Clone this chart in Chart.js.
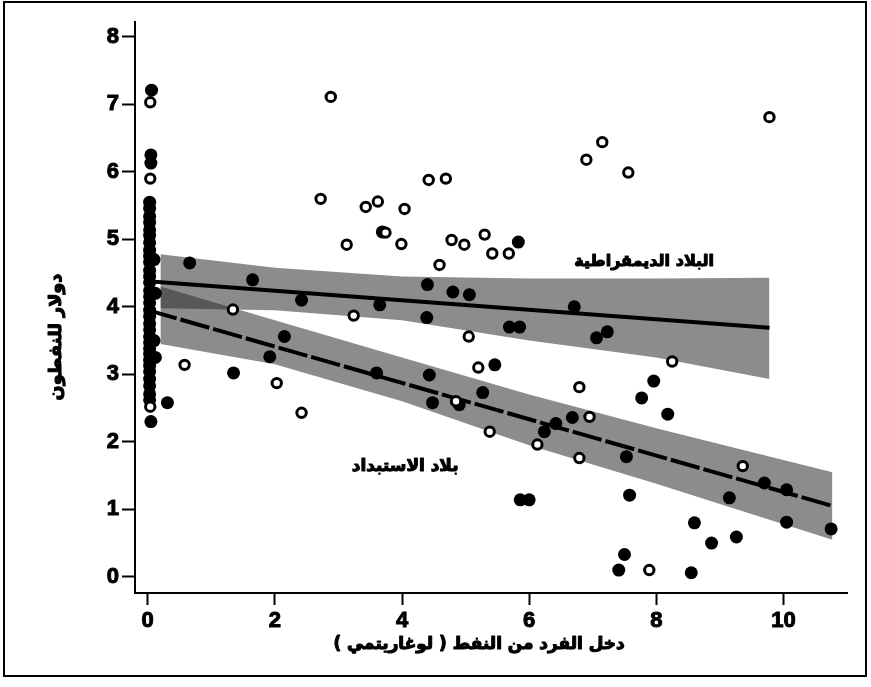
<!DOCTYPE html>
<html>
<head>
<meta charset="utf-8">
<script src="https://cdn.jsdelivr.net/npm/chart.js@4.4.1/dist/chart.umd.min.js"></script>
<style>
  html, body { margin: 0; padding: 0; background: #fff; }
  #wrap { position: relative; width: 871px; height: 687px; }
  #frame { position: absolute; left: 3px; top: 1px; width: 860px; height: 672px; border: 2px solid #000; pointer-events: none; }
  canvas { position: absolute; left: 0; top: 0; }
</style>
</head>
<body>
<div id="wrap">
  <canvas id="chart" width="871" height="687"></canvas>
  <div id="frame"></div>
</div>
<script>
// axis ticks
const X_TICKS = [0, 2, 4, 6, 8, 10];
const Y_TICKS = [0, 1, 2, 3, 4, 5, 6, 7, 8];

// democracies (open circles) [oil income per capita (log), value]
const democracies = [
  [0.04, 7.03], [0.04, 5.9], [0.04, 2.52],
  [2.88, 7.11], [2.72, 5.6], [3.13, 4.92], [3.43, 5.48], [3.62, 5.56], [3.74, 5.1],
  [4.04, 5.45], [3.99, 4.93], [4.42, 5.88], [4.69, 5.9], [4.59, 4.62], [4.78, 4.99],
  [4.98, 4.92], [5.3, 5.07], [5.42, 4.79], [5.68, 4.79],
  [6.9, 6.18], [7.15, 6.44], [7.56, 5.99], [9.78, 6.81],
  [0.58, 3.14], [1.34, 3.96], [2.03, 2.87], [2.42, 2.43], [3.24, 3.87], [5.05, 3.56],
  [5.2, 3.1], [6.79, 2.81], [6.95, 2.37], [8.25, 3.19], [6.79, 1.76], [7.89, 0.1],
  [9.36, 1.64], [5.38, 2.15], [6.13, 1.96], [4.85, 2.6]
];

// autocracies (filled circles)
const autocracies = [
  [0.06, 7.21], [0.05, 6.25], [0.05, 6.13], [0.31, 2.58], [0.05, 2.3],
  [0.12, 3.25], [0.1, 3.5], [0.12, 4.2], [0.1, 4.7],
  [0.66, 4.65], [1.65, 4.4], [1.35, 3.02], [2.15, 3.56], [1.92, 3.26],
  [2.42, 4.1], [3.6, 3.02], [3.65, 4.03], [3.69, 5.11], [4.4, 4.33],
  [4.39, 3.84], [4.8, 4.22], [5.06, 4.18], [4.43, 2.99], [4.48, 2.58],
  [4.9, 2.55], [5.27, 2.73], [5.46, 3.14], [5.69, 3.7], [5.85, 3.7],
  [5.83, 4.96], [6.71, 4.0], [7.06, 3.54], [7.23, 3.63], [7.96, 2.9],
  [7.77, 2.65], [8.18, 2.41], [6.68, 2.36], [7.53, 1.78], [7.58, 1.21],
  [5.86, 1.14], [6.0, 1.14], [8.6, 0.8], [8.87, 0.5], [9.26, 0.59],
  [7.5, 0.33], [7.41, 0.1], [8.55, 0.06], [9.15, 1.17], [9.7, 1.39],
  [10.05, 1.29], [10.05, 0.81], [10.75, 0.71], [6.24, 2.15], [6.42, 2.27]
];

// the dense stack of autocracies with no oil income
const zeroOilY = [
  2.62, 2.71, 2.83, 2.93, 3.04, 3.13, 3.21, 3.3, 3.38, 3.47, 3.56, 3.66, 3.75,
  3.86, 3.95, 4.06, 4.15, 4.24, 4.36, 4.45, 4.54, 4.66, 4.75, 4.84, 4.95, 5.06,
  5.14, 5.25, 5.34, 5.46, 5.55
];

// fitted lines and confidence bands
const demoLineX = [0, 9.78];
const demoLineY = [4.38, 3.69];
const demoBandX = [0.2, 2, 4, 6, 8, 9.78];
const demoBandUpper = [4.78, 4.58, 4.45, 4.42, 4.42, 4.43];
const demoBandLower = [3.98, 3.95, 3.8, 3.5, 3.25, 2.93];

const autoLineX = [0, 10.77];
const autoLineY = [3.95, 1.05];
const autoBandX = [0.2, 2, 4, 6, 8, 10.77];
const autoBandUpper = [4.3, 3.8, 3.25, 2.7, 2.2, 1.55];
const autoBandLower = [3.45, 3.15, 2.6, 1.95, 1.38, 0.55];

const X_TITLE = 'دخل الفرد من النفط ( لوغاريتمي )';
const Y_TITLE = 'دولار للنفطون';
const DEMO_LABEL = 'البلاد الديمقراطية';
const AUTO_LABEL = 'بلاد الاستبداد';

const BAND = 'rgba(45, 45, 45, 0.55)';
const ARABIC_FONT = '"DejaVu Sans"';

const pts = (xs, ys) => xs.map((x, i) => ({ x: x, y: ys[i] }));
const pairs = (list) => list.map((p) => ({ x: p[0], y: p[1] }));

const band = (xs, ys, fill) => ({
  type: 'line',
  data: pts(xs, ys),
  fill: fill,
  backgroundColor: BAND,
  borderWidth: 0,
  pointRadius: 0,
  order: 3
});

const fitFont = (c, text, width) => {
  c.font = 'bold 20px ' + ARABIC_FONT;
  const size = 20 * width / c.measureText(text).width;
  return 'bold ' + size.toFixed(1) + 'px ' + ARABIC_FONT;
};

// heavy print look: fill then a thin stroke
const heavyText = (c, text, x, y) => {
  c.fillText(text, x, y);
  c.strokeText(text, x, y);
};

const textPlugin = {
  id: 'arabicTexts',
  afterDraw(chart) {
    const c = chart.ctx;
    const xs = chart.scales.x;
    const ys = chart.scales.y;
    c.save();
    c.fillStyle = '#000';
    c.strokeStyle = '#000';
    c.lineWidth = 1.1;
    c.lineJoin = 'round';
    c.direction = 'rtl';
    c.textAlign = 'center';
    c.textBaseline = 'middle';

    c.font = fitFont(c, DEMO_LABEL, 140);
    heavyText(c, DEMO_LABEL, xs.getPixelForValue(7.81), ys.getPixelForValue(4.67));

    c.font = fitFont(c, AUTO_LABEL, 107);
    heavyText(c, AUTO_LABEL, xs.getPixelForValue(4.05), ys.getPixelForValue(1.63));

    c.font = fitFont(c, X_TITLE, 292);
    heavyText(c, X_TITLE, 479, 645);

    c.translate(56, 337);
    c.rotate(-Math.PI / 2);
    c.font = fitFont(c, Y_TITLE, 127);
    heavyText(c, Y_TITLE, 0, 0);
    c.restore();
  }
};

const tickFont = { family: '"Liberation Sans", Arial, sans-serif', size: 22, weight: 'bold' };

new Chart(document.getElementById('chart').getContext('2d'), {
  type: 'scatter',
  data: {
    datasets: [
      band(demoBandX, demoBandUpper, '+1'),
      band(demoBandX, demoBandLower, false),
      band(autoBandX, autoBandUpper, '+1'),
      band(autoBandX, autoBandLower, false),
      {
        type: 'line',
        data: pts(demoLineX, demoLineY),
        borderColor: '#000',
        borderWidth: 4,
        pointRadius: 0,
        fill: false,
        order: 2
      },
      {
        type: 'line',
        data: pts(autoLineX, autoLineY),
        borderColor: '#000',
        borderWidth: 4,
        borderDash: [30, 4],
        pointRadius: 0,
        fill: false,
        order: 2
      },
      {
        data: pairs(autocracies).concat(zeroOilY.map((y) => ({ x: 0.03, y: y }))),
        pointRadius: 6.5,
        pointBackgroundColor: '#000',
        pointBorderWidth: 0,
        order: 1
      },
      {
        data: pairs(democracies),
        pointRadius: 4.7,
        pointBackgroundColor: '#fff',
        pointBorderColor: '#000',
        pointBorderWidth: 3,
        order: 0
      }
    ]
  },
  options: {
    responsive: false,
    animation: false,
    layout: { padding: { top: 22, right: 24, bottom: 0, left: 0 } },
    plugins: {
      legend: { display: false },
      tooltip: { enabled: false }
    },
    scales: {
      x: {
        type: 'linear',
        min: -0.2,
        max: 11.0,
        afterBuildTicks: (s) => { s.ticks = X_TICKS.map((v) => ({ value: v })); },
        afterFit: (s) => { s.height = 94; },
        grid: { display: true, drawOnChartArea: false, drawTicks: true, tickLength: 12, tickWidth: 2, tickColor: '#000' },
        border: { display: true, color: '#000', width: 2 },
        ticks: { color: '#000', font: tickFont, padding: 3, maxRotation: 0, autoSkip: false, textStrokeColor: '#000', textStrokeWidth: 1 }
      },
      y: {
        type: 'linear',
        min: -0.24,
        max: 8.22,
        afterBuildTicks: (s) => { s.ticks = Y_TICKS.map((v) => ({ value: v })); },
        afterFit: (s) => { s.width = 135; },
        grid: { display: true, drawOnChartArea: false, drawTicks: true, tickLength: 13, tickWidth: 2, tickColor: '#000' },
        border: { display: true, color: '#000', width: 2 },
        ticks: { color: '#000', font: tickFont, padding: 3, autoSkip: false, textStrokeColor: '#000', textStrokeWidth: 1 }
      }
    }
  },
  plugins: [textPlugin]
});
</script>
</body>
</html>
